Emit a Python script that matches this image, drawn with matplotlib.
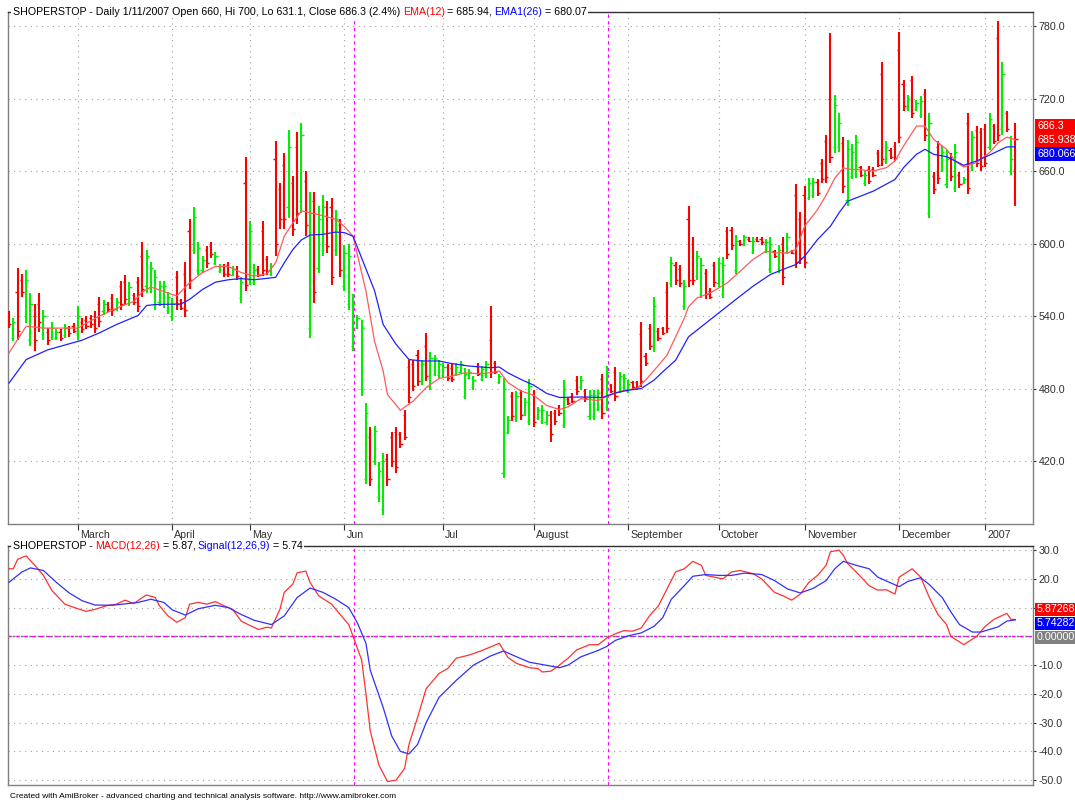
import numpy as np
import matplotlib.pyplot as plt
from matplotlib.patches import Rectangle
from matplotlib.transforms import ScaledTranslation

plt.rcParams['font.family'] = ['Liberation Sans', 'DejaVu Sans']

# daily bars (Feb 2006 .. 11 Jan 2007)
highs = [544, 538, 580, 575, 578, 559, 550, 559, 545, 530,
         535, 529, 529, 533, 532, 534, 548, 538, 540, 541,
         544, 556, 553, 552, 558, 555, 569, 574, 568, 559,
         572, 601, 595, 585, 578, 569, 569, 560, 555, 577,
         554, 585, 620, 630, 601, 590, 598, 601, 593, 583,
         583, 585, 581, 581, 572, 672, 619, 583, 581, 619,
         590, 584, 685, 650, 675, 694, 656, 692, 700, 660,
         643, 643, 631, 640, 635, 638, 628, 620, 599, 600,
         558, 541, 537, 468, 448, 449, 419, 427, 426, 444,
         448, 444, 462, 504, 504, 512, 504, 526, 510, 508,
         504, 501, 500, 500, 501, 503, 497, 496, 490, 501,
         499, 503, 548, 503, 492, 489, 457, 477, 478, 479,
         472, 488, 479, 465, 466, 461, 461, 462, 466, 487,
         472, 476, 490, 490, 480, 479, 479, 479, 492, 499,
         484, 498, 494, 492, 487, 486, 486, 535, 509, 533,
         556, 530, 531, 568, 589, 585, 582, 570, 631, 605,
         594, 588, 579, 563, 585, 588, 589, 614, 614, 607,
         603, 607, 605, 605, 605, 605, 604, 605, 595, 599,
         605, 609, 595, 649, 626, 648, 654, 654, 653, 670,
         690, 774, 723, 708, 688, 686, 682, 690, 664, 660,
         664, 663, 677, 750, 685, 679, 684, 775, 735, 723,
         739, 719, 722, 728, 708, 659, 685, 681, 677, 675,
         682, 659, 655, 708, 693, 697, 696, 699, 708, 699,
         784, 750, 710, 689, 700]
lows = [530, 519, 520, 556, 534, 515, 511, 527, 520, 516,
        520, 520, 519, 522, 523, 526, 520, 526, 529, 530,
        526, 531, 541, 543, 540, 544, 545, 549, 548, 549,
        543, 556, 559, 559, 545, 548, 547, 542, 536, 545,
        545, 539, 562, 591, 574, 576, 580, 588, 582, 576,
        572, 572, 573, 570, 551, 561, 566, 566, 572, 573,
        574, 573, 590, 612, 612, 621, 606, 616, 625, 606,
        522, 551, 576, 590, 592, 566, 590, 572, 561, 545,
        511, 529, 474, 401, 399, 417, 386, 375, 399, 415,
        410, 431, 437, 468, 478, 482, 483, 486, 479, 490,
        489, 489, 486, 485, 490, 492, 471, 488, 479, 490,
        486, 489, 489, 492, 484, 406, 442, 453, 452, 454,
        457, 450, 448, 454, 451, 450, 436, 450, 457, 447,
        466, 468, 475, 479, 469, 454, 454, 461, 455, 461,
        476, 470, 476, 479, 476, 479, 479, 481, 499, 512,
        510, 519, 524, 526, 564, 566, 564, 545, 564, 566,
        570, 555, 554, 554, 564, 564, 555, 587, 595, 575,
        598, 598, 601, 591, 601, 599, 592, 576, 588, 576,
        566, 591, 591, 580, 583, 580, 636, 638, 639, 650,
        650, 667, 675, 676, 642, 631, 653, 654, 655, 648,
        649, 655, 663, 664, 666, 670, 668, 683, 710, 710,
        704, 710, 704, 685, 621, 641, 649, 659, 646, 652,
        643, 646, 649, 641, 660, 663, 660, 663, 677, 682,
        685, 690, 692, 657, 631.1]
opens = [542, 522, 560, 570, 540, 520, 540, 550, 525, 527,
         523, 522, 527, 524, 530, 532, 525, 535, 537, 538,
         540, 550, 544, 550, 555, 546, 565, 568, 551, 557,
         568, 590, 565, 562, 550, 552, 550, 545, 540, 572,
         553, 575, 610, 595, 578, 578, 595, 598, 584, 577,
         581, 582, 574, 579, 555, 650, 570, 568, 579, 610,
         587, 575, 670, 645, 665, 630, 650, 680, 635, 652,
         530, 635, 580, 595, 630, 630, 595, 615, 565, 550,
         515, 531, 480, 405, 440, 420, 390, 380, 422, 440,
         444, 442, 458, 498, 500, 508, 486, 515, 482, 492,
         491, 491, 498, 497, 492, 494, 474, 489, 481, 499,
         488, 491, 520, 501, 485, 410, 444, 474, 455, 476,
         459, 453, 475, 456, 453, 452, 458, 460, 464, 450,
         471, 474, 487, 481, 478, 457, 457, 463, 488, 465,
         483, 494, 478, 481, 478, 485, 485, 525, 507, 530,
         515, 528, 530, 560, 567, 582, 579, 548, 620, 600,
         573, 558, 576, 561, 582, 567, 558, 610, 611, 578,
         602, 599, 604, 593, 604, 604, 594, 579, 594, 579,
         600, 593, 594, 640, 620, 640, 638, 640, 651, 667,
         685, 720, 680, 680, 683, 636, 656, 658, 663, 650,
         662, 662, 675, 740, 668, 677, 681, 760, 732, 712,
         735, 711, 706, 724, 625, 656, 680, 661, 649, 672,
         646, 657, 650, 700, 663, 694, 692, 695, 680, 697,
         770, 695, 708, 660, 660]
closes = [533, 535, 528, 560, 570, 550, 520, 535, 540, 520,
          530, 527, 522, 530, 526, 528, 540, 529, 532, 533,
          530, 536, 550, 546, 545, 552, 550, 554, 564, 552,
          548, 562, 590, 580, 572, 565, 565, 556, 550, 550,
          547, 545, 570, 622, 596, 586, 584, 591, 590, 581,
          575, 575, 579, 573, 568, 566, 610, 578, 574, 578,
          577, 581, 600, 620, 620, 680, 612, 625, 690, 615,
          625, 560, 620, 630, 598, 572, 620, 578, 592, 590,
          550, 538, 530, 460, 405, 445, 412, 420, 405, 420,
          415, 434, 440, 473, 482, 486, 500, 490, 505, 505,
          500, 498, 489, 488, 498, 500, 492, 494, 487, 492,
          496, 500, 494, 494, 490, 480, 454, 457, 474, 458,
          469, 482, 452, 462, 462, 458, 442, 453, 460, 480,
          468, 470, 478, 487, 472, 475, 475, 476, 460, 494,
          478, 474, 490, 489, 484, 481, 481, 486, 501, 515,
          548, 522, 526, 530, 584, 570, 567, 565, 570, 570,
          590, 582, 558, 556, 568, 584, 582, 591, 599, 602,
          600, 605, 602, 602, 602, 601, 601, 600, 590, 595,
          572, 605, 592, 585, 588, 585, 650, 651, 642, 653,
          655, 672, 715, 700, 648, 678, 676, 684, 657, 657,
          652, 657, 665, 670, 680, 672, 671, 688, 714, 720,
          708, 716, 718, 690, 700, 645, 654, 676, 670, 656,
          676, 649, 653, 646, 688, 667, 664, 667, 703, 685,
          690, 740, 695, 670, 686.3]
# g = green bar, r = red bar
bar_colors = ("rgrrggrrgr" "ggrgrrgrrr" "rrgrrgrrgr" "rrgggggggr"
              "rrrgggrrgg" "rrgrgrggrr" "rgrrrgrrgr" "grggrrgrgg"
              "ggggrgggrr" "rrrrrrgrgg" "ggrrgggggr" "ggrrgggrgr"
              "ggrgggrrrg" "rrrgrgggrg" "rrgggrrrrr" "grrrgrrgrr"
              "ggrrrggrrg" "rgrgrrggrg" "rgrrrrggrr" "rrggrgggrg"
              "rrrrgrrrrg" "rggrgrrggr" "grgrgrrrgr" "rgrgr")

ema12_x = [0, 4, 8, 16, 21, 26, 29, 31, 33, 37, 39, 42, 45, 48, 51, 54, 57, 60, 62, 64,
           66, 68, 70, 73, 76, 78, 80, 83, 85, 87, 88, 91, 94, 97, 100, 103, 106, 109, 112, 114,
           116, 119, 122, 125, 128, 130, 133, 137, 139, 143, 146, 148, 150, 153, 155, 157, 158, 160, 163, 167,
           170, 173, 176, 178, 181, 183, 185, 188, 190, 192, 194, 196, 198, 201, 204, 206, 208, 211, 213, 215,
           218, 220, 222, 225, 228, 230, 232, 234]
ema12_v = [509.5, 531.6, 530, 530, 540, 548, 552, 560, 564, 559, 556.6, 567.6, 576, 581, 581, 576, 573, 575, 584, 606,
           617, 627, 625.5, 623, 620, 614, 606, 560.7, 519, 494.5, 475, 462, 469.7, 480.7, 488.4, 490.3, 493, 492.3, 493, 494.5,
           485, 478, 474.5, 466, 462.6, 464.8, 471.7, 470, 473.6, 478.6, 480, 487, 495, 507.6, 522.8, 538, 547.6, 555, 559, 567.4,
           577, 586.8, 593.7, 592.3, 592.3, 595, 614.3, 628, 640, 654, 662.6, 661.2, 661, 660, 662.8, 668.3, 680.7, 697.2, 697.2, 686.2,
           678, 668.3, 663.3, 667, 675.2, 683.4, 688, 685.94]
ema26_x = [0, 4, 9, 13, 17, 21, 25, 30, 32, 34, 40, 42, 45, 48, 51, 54, 57, 62, 64, 66,
           68, 70, 73, 76, 78, 80, 85, 87, 90, 93, 96, 100, 103, 107, 112, 114, 116, 119, 122, 125,
           128, 133, 138, 141, 144, 147, 150, 152, 155, 158, 169, 173, 177, 181, 183, 185, 188, 191, 193, 195,
           198, 201, 206, 208, 211, 213, 215, 218, 220, 222, 225, 228, 230, 232, 234]
ema26_v = [484.5, 504, 512, 516, 520, 526, 533, 540.4, 548.7, 549.5, 550, 553.8, 562, 568, 570, 571, 570, 572, 584, 595,
           603, 607, 607.6, 609.5, 609, 606, 561, 533, 516.6, 504, 502.8, 502.8, 500.6, 498.6, 497.2, 497.8, 493, 487.6, 482.8, 476,
           472.6, 473, 472.6, 476.4, 478.6, 480, 487, 493.8, 503.4, 522.8, 553.7, 564.7, 574.3, 580, 582.6, 589.5, 603.3, 614.3, 625.4, 635,
           639.2, 643.4, 653, 662.8, 673.8, 678, 673.8, 671.9, 668.3, 664.7, 668.3, 673.2, 676.6, 679.9, 680.07]

macd_x = [0, 1, 2, 4, 6, 8, 10, 13, 16, 18, 20, 23, 25, 27, 29, 31, 32, 34, 35, 37,
          39, 41, 42, 44, 46, 48, 50, 52, 54, 56, 58, 60, 61, 63, 64, 66, 67, 69, 70, 72,
          75, 77, 79, 80, 82, 83, 84, 86, 88, 90, 92, 93, 95, 97, 100, 102, 104, 107, 110, 114,
          116, 118, 121, 123, 124, 126, 128, 130, 132, 135, 137, 139, 141, 143, 145, 147, 149, 151, 153, 155,
          157, 159, 161, 162, 164, 166, 168, 170, 173, 175, 178, 180, 182, 184, 186, 188, 190, 191, 193, 194,
          195, 197, 200, 202, 204, 206, 207, 210, 212, 214, 216, 218, 219, 222, 225, 227, 229, 232, 233, 234]
macd_v = [23.5, 23.5, 26.8, 28, 24.7, 21.2, 15.9, 11.2, 9.6, 8.7, 9.4, 10.8, 11.2, 12.6, 11.4, 13.5, 14.4, 13.5, 10.6, 7.1,
          4.9, 6.5, 11.2, 11.8, 11.2, 12.1, 10.6, 9.4, 5.3, 3.8, 2.4, 3.2, 2.9, 9.4, 15.3, 18.2, 22.1, 22.7, 18.8, 14.1,
          11.2, 7.6, 4.1, 0, -8.2, -20, -32.9, -44.7, -50.5, -50, -45.9, -37.6, -28.2, -18.2, -12.9, -11.2, -7.6, -6.5, -4.9, -2.4,
          -7.3, -9.4, -10.9, -11.2, -12.4, -12.1, -10, -7.6, -4.7, -2.9, -2.9, -0.6, 0.9, 2, 1.8, 2.9, 7.3, 10.6, 16.5, 22.4,
          23.5, 26.1, 24.7, 21.2, 20.6, 20, 22.4, 22.9, 21.8, 20, 15.3, 14.1, 12.6, 14.7, 18.8, 21.2, 24.7, 29.4, 30, 28.2,
          25.3, 22.4, 17.6, 16.1, 16.2, 14.7, 20.6, 23.5, 20.6, 13.5, 7.6, 4.1, 0, -2.9, 0, 3.5, 5.9, 8, 5.9, 5.87]
sig_x = [0, 3, 5, 8, 11, 14, 17, 20, 24, 27, 30, 33, 36, 38, 41, 44, 48, 51, 54, 57,
         61, 64, 67, 70, 73, 76, 79, 81, 83, 84, 87, 89, 91, 93, 95, 97, 100, 104, 108, 112,
         115, 118, 121, 124, 128, 130, 133, 137, 139, 141, 144, 147, 150, 152, 154, 157, 159, 162, 165, 168,
         171, 175, 178, 181, 184, 187, 190, 192, 194, 197, 200, 202, 205, 207, 209, 212, 214, 217, 219, 221,
         224, 226, 230, 232, 234]
sig_v = [18.8, 22.4, 23.8, 22.9, 18.8, 15.1, 12.4, 10.9, 10.8, 11.3, 11.8, 12.9, 11.8, 9.2, 7.4, 9.6, 10.8, 10, 7.6, 5.6,
         4.1, 7.1, 13.5, 16.8, 15.3, 12.9, 10, 4.7, -2.4, -11.8, -24.7, -34.7, -40, -40.9, -37.6, -30, -21.2, -15.3, -10, -6.8,
         -5.1, -7.1, -9, -9.8, -10.9, -10, -7.1, -4.9, -3.5, -1.4, 0.2, 1.2, 3.5, 6.5, 12.9, 17.6, 20.9, 21.5, 21.2, 21.2,
         22, 21.5, 19.4, 16.5, 15.1, 16.7, 19.4, 23.5, 26.1, 24.7, 23.5, 20.6, 18.6, 17.3, 19.1, 20.4, 18, 13.5, 8.5, 4.1,
         1.5, 1.5, 3.3, 5.3, 5.74]

month_pos = [16, 38, 56, 78, 101, 122, 144, 165, 185, 207, 227]
month_names = ['March', 'April', 'May', 'Jun', 'Jul', 'August', 'September',
               'October', 'November', 'December', '2007']
marker_bars = [80.2, 139.3]
price_ticks = [420, 480, 540, 600, 660, 720, 780]
macd_ticks = [30, 20, 10, -10, -20, -30, -40, -50]

price_boxes = [('686.3', '#ff0000'), ('685.938', '#ff0000'), ('680.066', '#0000ff')]
macd_boxes = [('5.87268', '#ff0000'), ('5.74282', '#0000ff'), ('0.00000', '#808080')]

W, H = 1075, 802
FS = 7.7
fig = plt.figure(figsize=(W / 100, H / 100), dpi=100)


def px_axes(l, t, r, b):
    return fig.add_axes([l / W, 1 - b / H, (r - l) / W, (b - t) / H])


ax1 = px_axes(8, 11.5, 1033, 524)
ax2 = px_axes(8, 545.5, 1033, 785)

x = np.arange(len(highs))
cols = ['#00ee00' if c == 'g' else '#ff0000' for c in bar_colors]
ax1.vlines(x, lows, highs, colors=cols, lw=1.5, zorder=3)
ax1.hlines(opens, x - 0.5, x, colors=cols, lw=1, zorder=3)
ax1.hlines(closes, x, x + 0.5, colors=cols, lw=1, zorder=3)
ax1.plot(ema12_x, ema12_v, color='#ff5a5a', lw=0.9, zorder=4)
ax1.plot(ema26_x, ema26_v, color='#2020ff', lw=0.9, zorder=4)

ax2.axhline(0, color='#707070', ls=(0, (2, 1)), lw=1.0, zorder=2)
ax2.axhline(0, color='#ff00ff', ls=(0, (3, 4)), lw=0.8, zorder=2)
ax2.plot(macd_x, macd_v, color='#ff3030', lw=0.9, zorder=4)
ax2.plot(sig_x, sig_v, color='#3030ff', lw=0.9, zorder=4)

grid_style = dict(color='#a0a0a0', ls=(0, (1, 4)), lw=0.8)
for ax in (ax1, ax2):
    ax.set_xlim(-0.23, 238.1)
    for m in marker_bars:
        ax.axvline(m, color='#ff00ff', ls=(0, (3, 3)), lw=0.8, zorder=2)
    ax.yaxis.tick_right()
    ax.tick_params(axis='y', labelsize=FS, length=2, pad=2, colors='#303030')
    for s in ax.spines.values():
        s.set_color('#808080')
        s.set_linewidth(1.0)
    ax.spines['top'].set_color('#303030')

ax1.set_ylim(367.9, 792)
ax1.set_yticks(price_ticks)
ax1.set_yticklabels([f'{v:.1f}' for v in price_ticks])
ax1.set_xticks(month_pos)
ax1.set_xticklabels(month_names)
ax1.tick_params(axis='x', labelsize=FS, length=4, pad=0, colors='#303030')
shift = ScaledTranslation(2 / 100, 0, fig.dpi_scale_trans)
for lbl in ax1.get_xticklabels():
    lbl.set_ha('left')
    lbl.set_transform(lbl.get_transform() + shift)
ax1.grid(True, **grid_style)

ax2.set_ylim(-51.7, 31.6)
ax2.set_yticks(macd_ticks)
# the 10.0 label sits under the MACD value box, as in the original
ax2.set_yticklabels(['' if v == 10 else f'{v:.1f}' for v in macd_ticks])
ax2.set_xticks([])
ax2.grid(True, axis='y', **grid_style)

renderer = fig.canvas.get_renderer()


def text_width(s):
    a = fig.text(0, 0, s + '|', fontsize=FS)
    b = fig.text(0, 0, '|', fontsize=FS)
    w = a.get_window_extent(renderer).width - b.get_window_extent(renderer).width
    a.remove()
    b.remove()
    return w


def header(parts, x0, y0):
    xp = x0
    for s, c in parts:
        fig.text(xp / W, 1 - (y0 + 3.5) / H, s, color=c, fontsize=FS,
                 va='baseline', ha='left', zorder=5)
        xp += text_width(s) - 0.5
    fig.add_artist(Rectangle(((x0 - 2) / W, 1 - (y0 + 6) / H), (xp - x0 + 4) / W, 12 / H,
                             transform=fig.transFigure, facecolor='white', edgecolor='none', zorder=2))


header([('SHOPERSTOP - Daily 1/11/2007 Open 660, Hi 700, Lo 631.1, Close 686.3 (2.4%) ', 'black'),
        ('EMA(12)', '#ff0000'), (' = 685.94, ', 'black'), ('EMA1(26)', '#0000ff'),
        (' = 680.07', 'black')], 13, 11.5)
header([('SHOPERSTOP - ', 'black'), ('MACD(12,26)', '#ff0000'), (' = 5.87, ', 'black'),
        ('Signal(12,26,9)', '#0000ff'), (' = 5.74', 'black')], 13, 545.5)


def value_boxes(items, y_first):
    for i, (s, c) in enumerate(items):
        yc = y_first + 14 * i
        fig.add_artist(Rectangle((1035 / W, 1 - (yc + 6.5) / H), 40 / W, 13 / H,
                                 transform=fig.transFigure, facecolor=c, edgecolor='none', zorder=3))
        fig.text(1037 / W, 1 - yc / H, s, color='white', fontsize=FS, va='center', ha='left', zorder=4)


value_boxes(price_boxes, 126)
value_boxes(macd_boxes, 609.5)

fig.text(10 / W, 1 - 797 / H,
         'Created with AmiBroker - advanced charting and technical analysis software. http://www.amibroker.com',
         fontsize=6.0, va='center', ha='left')

fig.savefig('out.png', dpi=100)
